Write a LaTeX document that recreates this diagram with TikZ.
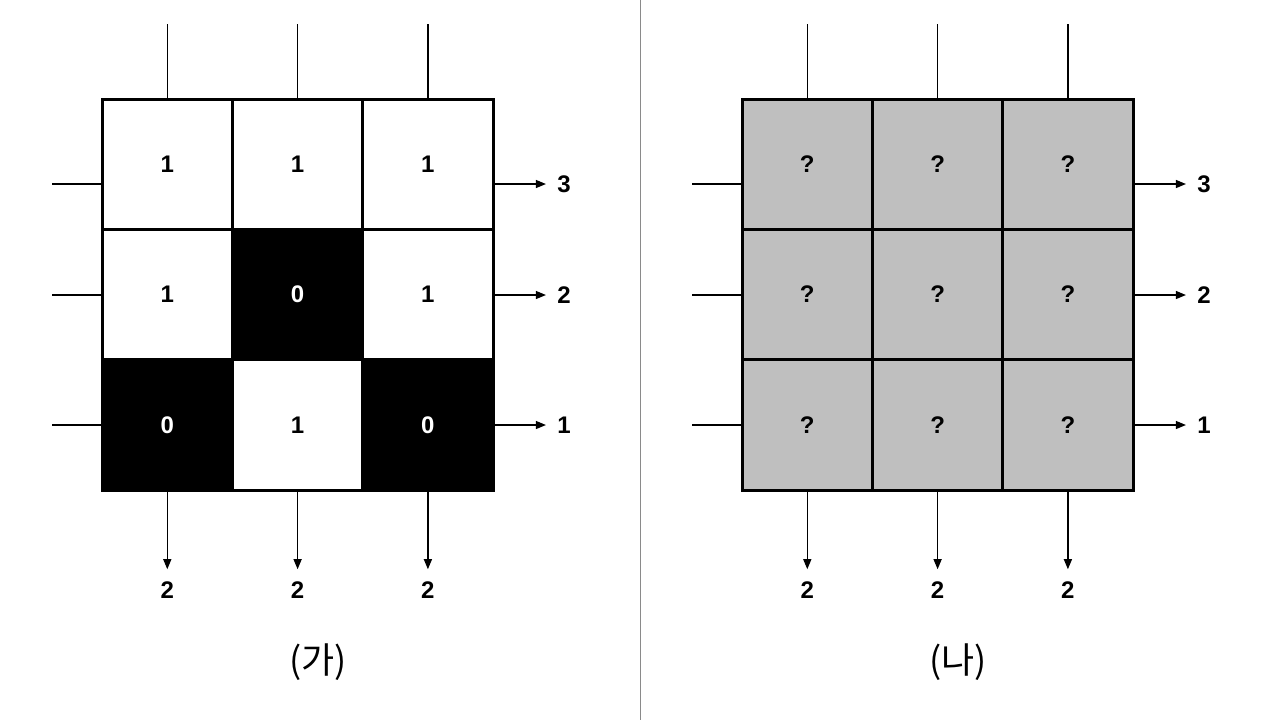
\documentclass[tikz,border=0pt]{standalone}
\usepackage{fontspec}
\usepackage{tikz}
\usetikzlibrary{arrows.meta,positioning}
\newfontfamily\numfont{Liberation Sans}
\newfontfamily\krfont{Noto Sans CJK KR}
\definecolor{cellgray}{HTML}{BFBFBF}
\definecolor{divgray}{HTML}{8A8A8A}

\begin{document}
\begin{tikzpicture}[x=0.5pt,y=-0.5pt,
  cell/.style={draw,line width=1.5pt,minimum size=65.2pt,inner sep=0pt,
    font=\numfont\bfseries\fontsize{12}{14}\selectfont},
  wire/.style={line width=0.6pt},
  arr/.style={wire,-{Triangle[length=5pt,width=4pt]}},
  count/.style={font=\numfont\bfseries\fontsize{12}{14}\selectfont,inner sep=2pt},
  caption/.style={font=\krfont\fontsize{18}{22}\selectfont}
]
\fill[white] (0,0) rectangle (1280,720);
\useasboundingbox (0,0) rectangle (1280,720);
% divider
\coordinate (divtop) at (640,0);
\coordinate (divbot) at (640,720);
\draw[divgray,line width=0.5pt] (divtop)--(divbot);
% (ga): known cells
\foreach \r/\c/\bg/\fg/\v in {1/1/white/black/1, 1/2/white/black/1, 1/3/white/black/1,
    2/1/white/black/1, 2/2/black/white/0, 2/3/white/black/1,
    3/1/black/white/0, 3/2/white/black/1, 3/3/black/white/0}
  \node[cell,fill=\bg,text=\fg] (A-\r-\c) at ({37+130.3*\c},{34+130.3*\r}) {\v};
% (na): hidden cells
\foreach \r in {1,2,3}
  \foreach \c in {1,2,3}
    \node[cell,fill=cellgray] (B-\r-\c) at ({677+130.3*\c},{34+130.3*\r}) {?};
% inputs and sums
\foreach \g/\dx in {A/0,B/640} {
  \foreach \c/\s in {1/2,2/2,3/2} {
    \coordinate (\g-top-\c) at ({\dx+37+130.3*\c},24);
    \draw[wire] (\g-top-\c)--(\g-1-\c.north);
    \node[count] (\g-col-\c) at ({\dx+37+130.3*\c},590) {\s};
    \draw[arr,shorten >=4pt] (\g-3-\c.south)--(\g-col-\c.north);
  }
  \foreach \r/\y/\s in {1/184/3,2/295/2,3/425/1} {
    \coordinate (\g-in-\r) at ({\dx+52},\y);
    \draw[wire] (\g-in-\r)--(\g-in-\r -| \g-\r-1.west);
    \node[count] (\g-row-\r) at ({\dx+564},\y) {\s};
    \draw[arr,shorten >=3.5pt] (\g-row-\r -| \g-\r-3.east)--(\g-row-\r.west);
  }
}
% captions
\node[caption] (capA) at (318,662) {(가)};
\node[caption] (capB) at (958,662) {(나)};
\end{tikzpicture}
\end{document}
